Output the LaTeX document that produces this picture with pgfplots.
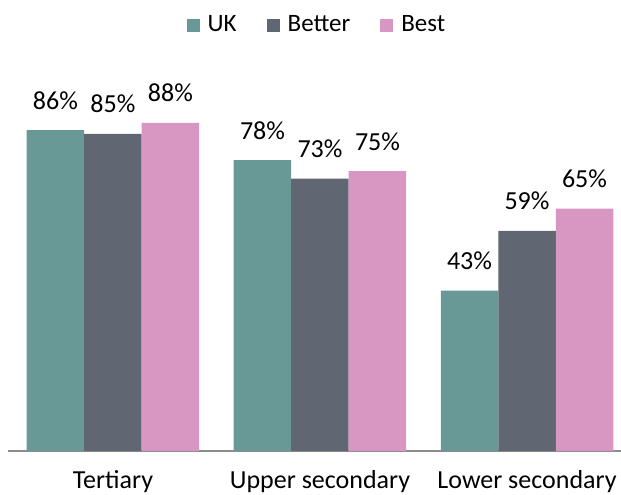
\documentclass[border=0pt]{standalone}
\usepackage{fontspec}
\setmainfont{Carlito}
\usepackage{pgfplots}
\pgfplotsset{compat=1.18}
\definecolor{ukc}{HTML}{689996}
\definecolor{betterc}{HTML}{606773}
\definecolor{bestc}{HTML}{D896C2}
\begin{document}
\begin{tikzpicture}
\fontsize{26}{30}\selectfont
\begin{axis}[
  name=ax,
  scale only axis,
  width=613pt,
  height=373pt,
  ybar=0pt,
  bar width=57.5pt,
  xmin=-0.507, xmax=2.454,
  ymin=0, ymax=100,
  xtick=data,
  xticklabels={Tertiary,Upper secondary,Lower secondary},
  xticklabel style={anchor=base,yshift=-37pt},
  major tick length=0pt,
  axis x line*=bottom,
  axis y line=none,
  x axis line style={draw=black!45,line width=1.5pt,-},
  ytick=\empty,
  /pgf/number format/assume math mode=true,
  nodes near coords={\pgfmathprintnumber{\pgfplotspointmeta}\%},
  every node near coord/.append style={anchor=base,yshift=21pt,font=\fontsize{26}{30}\selectfont,text=black},
  legend style={at={(0.504,1.142)},anchor=center,draw=none,fill=none,
    legend columns=3,font=\fontsize{25}{30}\selectfont,
    /tikz/every odd column/.append style={column sep=6pt},
    /tikz/every even column/.append style={column sep=28pt}},
  legend image code/.code={\fill[#1] (0pt,-6.5pt) rectangle (13pt,6.5pt);},
]
\addplot[fill=ukc,draw=none] coordinates {(0,86) (1,78) (2,43)};
\addplot[fill=betterc,draw=none] coordinates {(0,85) (1,73) (2,59)};
\addplot[fill=bestc,draw=none] coordinates {(0,88) (1,75) (2,65)};
\legend{UK,Better,Best}
\end{axis}
\pgfresetboundingbox
\path[use as bounding box] ([xshift=-8pt,yshift=-44pt]ax.south west) rectangle ([yshift=78pt]ax.north east);
\end{tikzpicture}
\end{document}
